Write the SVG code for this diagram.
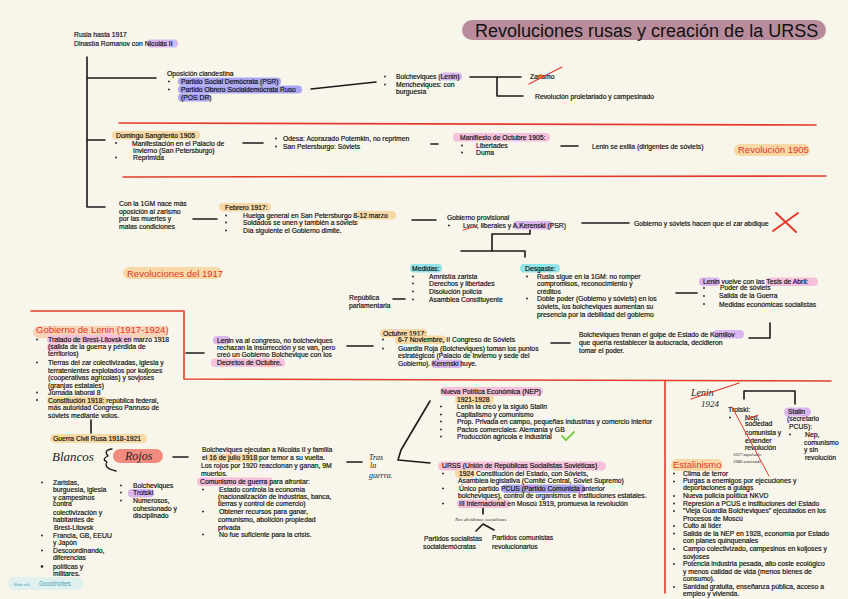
<svg xmlns="http://www.w3.org/2000/svg" width="848" height="599" viewBox="0 0 848 599">
<style>
.t{font-family:"Liberation Sans",Arial,sans-serif;font-size:6.8px;fill:#111;stroke:#111;stroke-width:0.18}
.h{font-family:"Liberation Sans",Arial,sans-serif;font-size:9.5px;fill:#e2352a}
.hw{font-family:"Liberation Serif","Times New Roman",serif;font-style:italic;fill:#222}
.k{stroke:#1a1a1a;stroke-width:1.6;fill:none;stroke-linecap:round;stroke-linejoin:round}
.rd{stroke:#e23b2c;stroke-width:1.6;fill:none;stroke-linecap:round;stroke-linejoin:round}
.pu{fill:#dab6ef}.bl{fill:#aaa6f4}.or{fill:#f8d9a6}.pk{fill:#f6c0da}.cy{fill:#92e4e8}
.d{fill:#1a1a1a}
</style>
<rect width="848" height="599" fill="#f8f6ea"/>

<g id="separators">
<path class="rd" d="M119,123 L816,125"/>
<path class="rd" d="M123,177 L826,176"/>
<path class="rd" d="M31,311 L184,311 L184,379 L831,381"/>
<path class="rd" d="M665,381 L665,593"/>
</g>

<g id="connectors">
<path class="k" d="M87,57 L87,207 M87,78 L156,78 M87,140 L105,140 M87,207 L105,207"/>
<path class="k" d="M311,89 L376,82"/>
<path class="k" d="M470,77 L521,77 M497,77 L497,96 L523,96"/>
<path class="k" d="M243,143 L263,143 M431,144 L438,144 M561,146 L578,146"/>
<path class="k" d="M193,219 L217,219 M412,220 L436,220 M582,223 L629,223"/>
<path class="k" d="M530,230 L530,234 L492,234 L492,251 M461,251 L525,251 L525,257"/>
<path class="k" d="M393,299 L405,299 M676,293 L697,293 M749,338 L770,338 L770,323"/>
<path class="k" d="M186,353 L204,353 M347,346 L373,346 M551,343 L570,343"/>
<path class="k" d="M91,420 L91,433 M173,457 L188,457 M347,462 L362,462"/>
<path class="k" d="M430,401 L401,450 L398,460 L430,463"/>
<path class="k" d="M483,507 L483,514 M476,531 L483,524 L494,530"/>
<path class="k" d="M744,399 L744,391 L795,391 L795,404"/>
</g>

<g id="title">
<rect x="462" y="20" width="364" height="20" rx="10" fill="#b98c9c"/>
<text x="475" y="37" style="font-family:'Liberation Sans',Arial,sans-serif;font-size:18px;fill:#111">Revoluciones rusas y creación de la URSS</text>
</g>

<g id="rusia">
<rect class="pu" x="147" y="39.5" width="31" height="8" rx="4"/>
<text class="t" x="74" y="37">Rusia hasta 1917</text>
<text class="t" x="74" y="45.5">Dinastía Romanov con Nicolás II</text>
</g>

<g id="oposicion">
<text class="t" x="167" y="76">Oposición clandestina</text>
<circle class="d" cx="169" cy="81.5" r="0.9"/><circle class="d" cx="169" cy="89.5" r="0.9"/>
<rect class="bl" x="178" y="77.5" width="103" height="8" rx="4"/>
<rect class="bl" x="178" y="85.5" width="124" height="8" rx="4"/>
<rect class="bl" x="178" y="93.5" width="32" height="8" rx="4"/>
<text class="t" x="181" y="83.5">Partido Social Demócrata (PSR)</text>
<text class="t" x="181" y="91.5">Partido Obrero Socialdemócrata Ruso</text>
<text class="t" x="181" y="99.5">(POS DR)</text>
</g>

<g id="bolcheviques">
<circle class="d" cx="385" cy="76.5" r="0.9"/><circle class="d" cx="385" cy="84.5" r="0.9"/>
<rect class="pu" x="440" y="72.5" width="22" height="8" rx="4"/>
<text class="t" x="396" y="78.5">Bolcheviques (Lenin)</text>
<text class="t" x="396" y="86.5">Mencheviques: con</text>
<text class="t" x="396" y="93.5">burguesía</text>
</g>

<g id="zarismo">
<text class="t" x="530" y="78.5">Zarismo</text>
<path class="rd" style="stroke-width:1.2" d="M529,84 L562,67"/>
</g>
<g id="revolucion-proletaria">
<text class="t" x="535" y="98.5">Revolución proletariado y campesinado</text>
</g>

<g id="domingo">
<rect class="or" x="112" y="131" width="88" height="8.5" rx="4"/>
<text class="t" x="116" y="138">Domingo Sangriento 1905</text>
<circle class="d" cx="116" cy="143" r="0.9"/><circle class="d" cx="116" cy="157.5" r="0.9"/>
<text class="t" x="132" y="145.5">Manifestación en el Palacio de</text>
<text class="t" x="133" y="153">Invierno (San Petersburgo)</text>
<text class="t" x="133" y="160">Reprimida</text>
</g>

<g id="odesa">
<circle class="d" cx="276" cy="138.5" r="0.9"/><circle class="d" cx="276" cy="146.5" r="0.9"/>
<text class="t" x="283" y="140.5">Odesa: Acorazado Potemkin, no reprimen</text>
<text class="t" x="283" y="148.5">San Petersburgo: Sóviets</text>
</g>

<g id="manifiesto">
<rect class="pk" x="453" y="133" width="97" height="8.5" rx="4"/>
<text class="t" x="460" y="139.5">Manifiesto de Octubre 1905:</text>
<circle class="d" cx="462" cy="145.5" r="0.9"/><circle class="d" cx="462" cy="152.5" r="0.9"/>
<text class="t" x="476" y="147.5">Libertades</text>
<text class="t" x="476" y="154.5">Duma</text>
</g>

<g id="exilio">
<text class="t" x="592" y="148.5">Lenin se exilia (dirigentes de sóviets)</text>
</g>

<g id="revolucion1905">
<rect class="or" x="734" y="144" width="76" height="12" rx="6"/>
<text class="h" x="738" y="153">Revolución 1905</text>
</g>

<g id="primera-guerra">
<text class="t" x="119" y="205.5">Con la 1GM nace más</text>
<text class="t" x="119" y="213.5">oposición al zarismo</text>
<text class="t" x="119" y="220.5">por las muertes y</text>
<text class="t" x="119" y="228.5">malas condiciones</text>
</g>

<g id="febrero">
<rect class="or" x="219" y="203" width="52" height="8.5" rx="4"/>
<text class="t" x="225" y="209.5">Febrero 1917:</text>
<circle class="d" cx="226" cy="215.5" r="0.9"/><circle class="d" cx="226" cy="222.5" r="0.9"/><circle class="d" cx="226" cy="230.5" r="0.9"/>
<rect class="or" x="355" y="211" width="41" height="8.5" rx="4"/>
<text class="t" x="243" y="217.5">Huelga general en San Petersburgo 8-12 marzo</text>
<text class="t" x="243" y="224.5">Soldados se unen y también a sóviets</text>
<text class="t" x="243" y="232.5">Día siguiente el Gobierno dimite.</text>
</g>

<g id="gobierno-provisional">
<text class="t" x="447" y="219.5">Gobierno provisional</text>
<circle class="d" cx="449" cy="225.5" r="0.9"/>
<rect class="pu" x="513" y="221" width="40" height="8.5" rx="4"/>
<text class="t" x="463" y="227.5">Lvov, liberales y A.Kerenski (PSR)</text>
<path class="rd" style="stroke-width:1" d="M463,230 L477,226"/>
</g>

<g id="abdicacion">
<text class="t" x="634" y="225.5">Gobierno y sóviets hacen que el zar abdique</text>
<path class="rd" style="stroke-width:2" d="M776,213 L796,232 M773,231 L798,213"/>
</g>

<g id="revoluciones1917">
<rect class="or" x="123" y="267" width="99" height="12" rx="6"/>
<text class="h" x="127" y="276.5">Revoluciones del 1917</text>
</g>

<g id="medidas">
<rect class="cy" x="410" y="264" width="32" height="8.5" rx="4"/>
<text class="t" x="412" y="270.5">Medidas:</text>
<circle class="d" cx="413" cy="276.5" r="0.9"/><circle class="d" cx="413" cy="283.5" r="0.9"/><circle class="d" cx="413" cy="291.5" r="0.9"/><circle class="d" cx="413" cy="299.5" r="0.9"/>
<text class="t" x="429" y="278.5">Amnistía zarista</text>
<text class="t" x="429" y="285.5">Derechos y libertades</text>
<text class="t" x="429" y="293.5">Disolución policía</text>
<text class="t" x="429" y="301.5">Asamblea Constituyente</text>
</g>

<g id="republica">
<text class="t" x="349" y="299.5">República</text>
<text class="t" x="349" y="307.5">parlamentaria</text>
</g>

<g id="desgaste">
<rect class="cy" x="520" y="264" width="40" height="8.5" rx="4"/>
<text class="t" x="525" y="270.5">Desgaste:</text>
<circle class="d" cx="527" cy="276.5" r="0.9"/><circle class="d" cx="527" cy="298.5" r="0.9"/>
<text class="t" x="537" y="278.5">Rusia sigue en la 1GM: no romper</text>
<text class="t" x="537" y="285.5">compromisos, reconocimiento y</text>
<text class="t" x="537" y="293.5">créditos</text>
<text class="t" x="537" y="300.5">Doble poder (Gobierno y sóviets) en los</text>
<text class="t" x="537" y="308.5">sóviets, los bolcheviques aumentan su</text>
<text class="t" x="537" y="316.5">presencia por la debilidad del gobierno</text>
</g>

<g id="tesis">
<rect class="pu" x="699" y="277.5" width="21" height="8.5" rx="4"/>
<rect class="pk" x="766" y="277.5" width="52" height="8.5" rx="4"/>
<text class="t" x="703" y="283.5">Lenin vuelve con las Tesis de Abril:</text>
<circle class="d" cx="704" cy="288" r="0.9"/><circle class="d" cx="704" cy="296" r="0.9"/><circle class="d" cx="704" cy="304" r="0.9"/>
<text class="t" x="720" y="289.5">Poder de sóviets</text>
<text class="t" x="719" y="297.5">Salida de la Guerra</text>
<text class="t" x="719" y="306.5">Medidas económicas socialistas</text>
</g>

<g id="kornilov">
<rect class="pu" x="713" y="330" width="31" height="8.5" rx="4"/>
<text class="t" x="579" y="336.5">Bolcheviques frenan el golpe de Estado de Kornilov</text>
<text class="t" x="579" y="344.5">que quería restablecer la autocracia, decidieron</text>
<text class="t" x="579" y="352.5">tomar el poder.</text>
</g>

<g id="gobierno-lenin">
<rect class="or" x="33" y="326" width="135" height="12" rx="6" style="fill:#f9d3b8"/>
<text class="h" x="36" y="332.5">Gobierno de Lenin (1917-1924)</text>
<rect class="pk" x="47" y="335" width="85" height="8.5" rx="4"/>
<rect class="pk" x="47" y="343" width="14" height="8.5" rx="4"/>
<rect class="or" x="47" y="396.5" width="60" height="8.5" rx="4"/>
<circle class="d" cx="37" cy="339.5" r="0.9"/><circle class="d" cx="37" cy="362.5" r="0.9"/><circle class="d" cx="37" cy="392.5" r="0.9"/><circle class="d" cx="37" cy="400" r="0.9"/>
<text class="t" x="48" y="341.5">Tratado de Brest-Litovsk en marzo 1918</text>
<text class="t" x="48" y="349">(salida de la guerra y pérdida de</text>
<text class="t" x="48" y="356">territorios)</text>
<text class="t" x="48" y="365">Tierras del zar colectivizadas, iglesia y</text>
<text class="t" x="48" y="372.5">terratenientes explotados por koljoses</text>
<text class="t" x="48" y="380">(cooperativas agrícolas) y sovjoses</text>
<text class="t" x="48" y="387.5">(granjas estatales)</text>
<text class="t" x="48" y="395">Jornada laboral 8</text>
<text class="t" x="48" y="402.5">Constitución 1918: república federal,</text>
<text class="t" x="48" y="410">más autoridad Congreso Panruso de</text>
<text class="t" x="48" y="418">sóviets mediante votos.</text>
</g>

<g id="guerra-civil">
<rect class="or" x="50" y="434" width="97" height="9" rx="4.5"/>
<text class="t" x="53" y="441">Guerra Civil Rusa 1918-1921</text>
</g>

<g id="congreso">
<rect class="pu" x="213" y="336" width="17" height="8.5" rx="4"/>
<rect class="pk" x="211" y="358.5" width="74" height="8.5" rx="4"/>
<text class="t" x="217" y="342.5">Lenin va al congreso, no bolcheviques</text>
<text class="t" x="217" y="349.5">rechazan la insurrección y se van, pero</text>
<text class="t" x="217" y="357">creó un Gobierno Bolchevique con los</text>
<text class="t" x="217" y="364.5">Decretos de Octubre.</text>
</g>

<g id="octubre">
<rect class="or" x="380" y="329" width="47" height="8.5" rx="4"/>
<text class="t" x="383" y="335.5">Octubre 1917:</text>
<circle class="d" cx="383" cy="339.5" r="0.9"/><circle class="d" cx="383" cy="348.5" r="0.9"/>
<rect class="or" x="395" y="335.5" width="51" height="8.5" rx="4"/>
<rect class="pu" x="431" y="359.5" width="32" height="8.5" rx="4"/>
<text class="t" x="398" y="341.5">6-7 Noviembre, II Congreso de Sóviets</text>
<text class="t" x="398" y="350.5">Guardia Roja (Bolcheviques) toman los puntos</text>
<text class="t" x="398" y="357.5">estratégicos (Palacio de Invierno y sede del</text>
<text class="t" x="398" y="365.5">Gobierno). Kerenski huye.</text>
</g>

<g id="nep">
<rect class="pk" x="440" y="387" width="103" height="9" rx="4.5"/>
<text class="t" x="441" y="393.5">Nueva Política Económica (NEP)</text>
<rect class="or" x="455" y="395.5" width="39" height="8.5" rx="4"/>
<text class="t" x="457" y="401.5">1921-1928</text>
<circle class="d" cx="441" cy="406.5" r="0.9"/><circle class="d" cx="441" cy="414.5" r="0.9"/><circle class="d" cx="441" cy="421.5" r="0.9"/><circle class="d" cx="441" cy="429.5" r="0.9"/><circle class="d" cx="441" cy="436.5" r="0.9"/>
<text class="t" x="457" y="408.5">Lenin la creó y la siguió Stalin</text>
<text class="t" x="456" y="416.5">Capitalismo y comunismo</text>
<text class="t" x="457" y="423.5">Prop. Privada en campo, pequeñas industrias y comercio interior</text>
<text class="t" x="457" y="431.5">Pactos comerciales: Alemania y GB</text>
<text class="t" x="457" y="438.5">Producción agrícola e industrial</text>
<path d="M562,436 L566,440 L574,432" style="stroke:#7ccf4a;stroke-width:2;fill:none;stroke-linecap:round;stroke-linejoin:round"/>
</g>

<g id="blancos-rojos">
<text class="hw" x="52" y="461" style="font-size:13px">Blancos</text>
<path class="k" style="stroke-width:1.3" d="M112,449 Q103,450 108,456 Q101,459 107,462 Q103,468 116,471"/>
<rect x="113" y="449" width="50" height="14" rx="7" fill="#f28b7f"/>
<text class="hw" x="125" y="460" style="font-size:12px">Rojos</text>
</g>

<g id="blancos">
<circle class="d" cx="42" cy="482.5" r="0.9"/><circle class="d" cx="42" cy="535.5" r="0.9"/><circle class="d" cx="42" cy="550.5" r="0.9"/><circle class="d" cx="42" cy="566.5" r="1.3"/>
<text class="t" x="53" y="484.5">Zaristas,</text>
<text class="t" x="53" y="491.5">burguesía, iglesia</text>
<text class="t" x="53" y="499.5">y campesinos</text>
<text class="t" x="53" y="505.5">contra</text>
<text class="t" x="53" y="514.5">colectivización y</text>
<text class="t" x="53" y="521.5">habitantes de</text>
<text class="t" x="54" y="529.5">Brest-Litovsk</text>
<text class="t" x="53" y="537.5">Francia, GB, EEUU</text>
<text class="t" x="53" y="544.5">y Japón</text>
<text class="t" x="53" y="552.5">Descoordinando,</text>
<text class="t" x="53" y="559.5">diferencias</text>
<text class="t" x="53" y="568.5">políticas y</text>
<text class="t" x="53" y="575.5">militares.</text>
</g>

<g id="rojos">
<circle class="d" cx="121" cy="485.5" r="0.9"/><circle class="d" cx="121" cy="492.5" r="0.9"/><circle class="d" cx="121" cy="500.5" r="0.9"/>
<rect class="pu" x="128" y="489" width="26" height="8.5" rx="4"/>
<text class="t" x="133" y="487.5">Bolcheviques</text>
<text class="t" x="133" y="494.5">Trotski</text>
<text class="t" x="133" y="502.5">Numerosos,</text>
<text class="t" x="133" y="510.5">cohesionado y</text>
<text class="t" x="133" y="517.5">disciplinado</text>
</g>

<g id="comunismo-guerra">
<rect class="or" x="207" y="453.5" width="52" height="8.5" rx="4"/>
<rect class="pk" x="197" y="477.5" width="76" height="8.5" rx="4"/>
<text class="t" x="202" y="452">Bolcheviques ejecutan a Nicolás II y familia</text>
<text class="t" x="202" y="459.8">el 16 de julio 1918 por temor a su vuelta.</text>
<text class="t" x="201" y="467.5">Los rojos por 1920 reaccionan y ganan, 9M</text>
<text class="t" x="201" y="475.5">muertos.</text>
<text class="t" x="200" y="483.5">Comunismo de guerra para afrontar:</text>
<circle class="d" cx="203" cy="489.5" r="0.9"/><circle class="d" cx="203" cy="511.5" r="0.9"/><circle class="d" cx="203" cy="534.5" r="0.9"/>
<text class="t" x="219" y="491.5">Estado controla la economía</text>
<text class="t" x="218" y="498.5">(nacionalización de industrias, banca,</text>
<text class="t" x="218" y="505.5">tierras y control de comercio)</text>
<text class="t" x="219" y="513.5">Obtener recursos para ganar,</text>
<text class="t" x="218" y="521.5">comunismo, abolición propiedad</text>
<text class="t" x="218" y="529.5">privada</text>
<text class="t" x="219" y="536.5">No fue suficiente para la crisis.</text>
</g>

<g id="tras-guerra">
<text class="hw" x="369" y="460" style="font-size:8px">Tras</text>
<text class="hw" x="370" y="468" style="font-size:8px">la</text>
<text class="hw" x="369" y="478" style="font-size:8px">guerra.</text>
</g>

<g id="urss">
<rect class="pk" x="438" y="461.5" width="168" height="9" rx="4.5"/>
<text class="t" x="442" y="467.5">URSS (Unión de Repúblicas Socialistas Soviéticas)</text>
<circle class="d" cx="443" cy="473.5" r="0.9"/><circle class="d" cx="443" cy="488.5" r="0.9"/><circle class="d" cx="443" cy="503.5" r="0.9"/>
<rect class="or" x="455" y="469.5" width="20" height="8.5" rx="4"/>
<rect class="bl" x="502" y="484.5" width="83" height="8.5" rx="4"/>
<rect class="pk" x="457" y="499.5" width="53" height="8.5" rx="4"/>
<text class="t" x="459" y="475.5">1924 Constitución del Estado, con Sóviets,</text>
<text class="t" x="458" y="482.5">Asamblea legislativa (Comité Central, Sóviet Supremo)</text>
<text class="t" x="459" y="490.5">Único partido PCUS (Partido Comunista anterior</text>
<text class="t" x="458" y="497.5">bolcheviques), control de organismos e instituciones estatales.</text>
<text class="t" x="459" y="505.5">III Internacional en Moscú 1919, promueva la revolución</text>
</g>

<g id="division">
<text class="hw" x="455" y="521" style="font-size:5px">Nos dividimos socialistas.</text>
</g>
<g id="socialistas">
<text class="t" x="424" y="540.5">Partidos socialistas</text>
<text class="t" x="423" y="548.5">socialdemócratas</text>
</g>
<g id="comunistas">
<text class="t" x="492" y="539.5">Partidos comunistas</text>
<text class="t" x="492" y="548.5">revolucionarios</text>
</g>

<g id="lenin1924">
<text class="hw" x="691" y="396" style="font-size:10px">Lenin</text>
<text class="hw" x="701" y="406.5" style="font-size:9px">1924</text>
<path class="rd" style="stroke-width:1.3" d="M691,399 L739,383"/>
</g>

<g id="trotski">
<text class="t" x="728" y="411.5">Trotski:</text>
<circle class="d" cx="730" cy="417.5" r="0.9"/>
<text class="t" x="745" y="419.5">Nep,</text>
<path class="rd" style="stroke-width:1" d="M745,420 L758,415"/>
<text class="t" x="745" y="425.5">sociedad</text>
<text class="t" x="745" y="435">comunista y</text>
<text class="t" x="745" y="442.5">extender</text>
<text class="t" x="745" y="450">revolución</text>
<text class="hw" x="733" y="455.5" style="font-size:4.5px">1927 expulsado</text>
<text class="hw" x="733" y="462.5" style="font-size:4.5px">1940 asesinado</text>
<path class="rd" style="stroke-width:1" d="M732,407 L769,476"/>
</g>

<g id="stalin">
<rect class="pu" x="784" y="407.5" width="27" height="9" rx="4.5"/>
<text class="t" x="788" y="413.5">Stalin</text>
<text class="t" x="787" y="421">(secretario</text>
<text class="t" x="789" y="428.5">PCUS):</text>
<circle class="d" cx="790" cy="434.5" r="0.9"/>
<text class="t" x="805" y="436.5">Nep,</text>
<text class="t" x="804" y="444.5">comunismo</text>
<text class="t" x="804" y="451.5">y sin</text>
<text class="t" x="805" y="459.5">revolución</text>
</g>

<g id="estalinismo">
<rect class="or" x="671" y="459" width="52" height="12" rx="6"/>
<text class="h" x="673" y="468">Estalinismo</text>
<circle class="d" cx="674" cy="473.5" r="0.9"/><circle class="d" cx="674" cy="481.5" r="0.9"/><circle class="d" cx="674" cy="496" r="0.9"/><circle class="d" cx="674" cy="503.5" r="0.9"/><circle class="d" cx="674" cy="511" r="0.9"/><circle class="d" cx="674" cy="526" r="0.9"/><circle class="d" cx="674" cy="533.5" r="0.9"/><circle class="d" cx="674" cy="549" r="0.9"/><circle class="d" cx="674" cy="564" r="0.9"/><circle class="d" cx="674" cy="587" r="0.9"/>
<text class="t" x="683" y="475.7">Clima de terror</text>
<text class="t" x="683" y="483.4">Purgas a enemigos por ejecuciones y</text>
<text class="t" x="683" y="490.4">deportaciones a gulags</text>
<text class="t" x="683" y="498.1">Nueva policía política NKVD</text>
<text class="t" x="683" y="505.7">Represión a PCUS e instituciones del Estado</text>
<text class="t" x="683" y="513.4">"Vieja Guardia Bolcheviques" ejecutados en los</text>
<text class="t" x="683" y="521.4">Procesos de Moscú</text>
<text class="t" x="683" y="528.1">Culto al líder</text>
<text class="t" x="683" y="535.7">Salida de la NEP en 1928, economía por Estado</text>
<text class="t" x="683" y="543.1">con planes quinquenales</text>
<text class="t" x="683" y="551.4">Campo colectivizado, campesinos en koljoses y</text>
<text class="t" x="683" y="559.1">sovjoses</text>
<text class="t" x="683" y="566.4">Potencia industria pesada, alto coste ecológico</text>
<text class="t" x="683" y="574.1">y menos calidad de vida (menos bienes de</text>
<text class="t" x="683" y="581.4">consumo).</text>
<text class="t" x="683" y="589.1">Sanidad gratuita, enseñanza pública, acceso a</text>
<text class="t" x="683" y="595.7">empleo y vivienda.</text>
</g>

<g id="goodnotes">
<rect x="8" y="577" width="75" height="13" rx="6.5" fill="#dff0ef"/>
<text x="14" y="585.5" style="font-family:'Liberation Sans',Arial,sans-serif;font-size:3.5px;fill:#4aa3b5">Made with</text>
<text x="39" y="586" style="font-family:'Liberation Sans',Arial,sans-serif;font-size:6.5px;fill:#4aa3b5">Goodnotes</text>
</g>
</svg>
